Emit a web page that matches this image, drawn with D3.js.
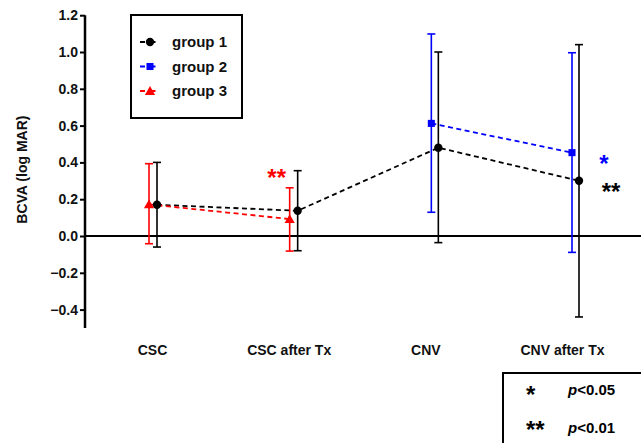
<!DOCTYPE html>
<html><head><meta charset="utf-8">
<script src="https://cdn.jsdelivr.net/npm/d3@7/dist/d3.min.js"></script>
<style>
html,body{margin:0;padding:0;background:#fff;}
svg{display:block;font-family:"Liberation Sans",Arial,sans-serif;}
</style></head>
<body>
<svg id="chart" width="641" height="443"></svg>
<script>
// ---- data ----
const categories = ["CSC", "CSC after Tx", "CNV", "CNV after Tx"];
const yTicks = [-0.4, -0.2, 0.0, 0.2, 0.4, 0.6, 0.8, 1.0, 1.2];
const groupNames = ["group 1", "group 2", "group 3"];
const g1Cats = ["CSC", "CSC after Tx", "CNV", "CNV after Tx"];
const g1Mean = [0.17, 0.137, 0.48, 0.30];
const g1Low  = [-0.06, -0.08, -0.036, -0.44];
const g1High = [0.40, 0.355, 1.00, 1.04];
const g2Cats = ["CNV", "CNV after Tx"];
const g2Mean = [0.612, 0.453];
const g2Low  = [0.129, -0.089];
const g2High = [1.098, 0.996];
const g3Cats = ["CSC", "CSC after Tx"];
const g3Mean = [0.172, 0.092];
const g3Low  = [-0.042, -0.082];
const g3High = [0.393, 0.262];
const sigMarks = [
  {cat: "CSC after Tx", text: "**", group: 2},
  {cat: "CNV after Tx", text: "*", group: 1},
  {cat: "CNV after Tx", text: "**", group: 0}
];
const pLegend = [{stars: "*", label: "<0.05"}, {stars: "**", label: "<0.01"}];

// ---- layout ----
const colors = ["#000000", "#0000ff", "#ff0000"];
const shapes = [d3.symbolCircle, d3.symbolSquare, d3.symbolTriangle];
const symSize = [55, 50, 45];
const offsets = [0, -7, -8];
const FONT = "Liberation Sans, Arial, sans-serif";

const svg = d3.select("#chart");
const y = d3.scaleLinear().domain([-0.5, 1.2]).range([328, 15.2]);
const x = d3.scalePoint().domain(categories).range([157, 579]);
const xLab = d3.scalePoint().domain(categories).range([152, 562]);

const groups = [
  {cats: g1Cats, mean: g1Mean, low: g1Low, high: g1High},
  {cats: g2Cats, mean: g2Mean, low: g2Low, high: g2High},
  {cats: g3Cats, mean: g3Mean, low: g3Low, high: g3High}
].map((g, i) => ({...g, i, pts: g.cats.map((c, k) => ({c, m: g.mean[k], lo: g.low[k], hi: g.high[k]}))}));

// y axis
const yAxis = svg.append("g").attr("transform", "translate(85,0)")
  .call(d3.axisLeft(y).tickValues(yTicks).tickFormat(d3.format(".1f")).tickSize(5).tickSizeOuter(0));
yAxis.select(".domain").attr("stroke-width", 2.5).attr("d", `M0,${y(1.2)}V${y(-0.5)}`);
yAxis.selectAll(".tick line").attr("stroke-width", 2);
yAxis.selectAll(".tick text").attr("font-size", 14).attr("font-weight", "bold")
  .attr("font-family", FONT).attr("x", -7).attr("fill", "#111");

// zero line
svg.append("line").attr("x1", 85).attr("x2", 641).attr("y1", y(0)).attr("y2", y(0))
  .attr("stroke", "#000").attr("stroke-width", 2);

// y label
svg.append("text").attr("transform", `translate(27,${(y(1.2)+y(-0.5))/2 - 2}) rotate(-90)`)
  .attr("text-anchor", "middle").attr("font-size", 14).attr("font-weight", "bold").attr("fill", "#111")
  .text("BCVA (log MAR)");

// x labels
const xAxis = svg.append("g").attr("transform", "translate(0,341)")
  .call(d3.axisBottom(xLab).tickSize(0).tickPadding(0));
xAxis.select(".domain").remove();
xAxis.selectAll(".tick text").attr("font-size", 14).attr("font-weight", "bold")
  .attr("font-family", FONT).attr("fill", "#111").attr("dy", "1em");

// lines
groups.forEach(g => {
  svg.append("path").datum(g.pts)
    .attr("d", d3.line().x(d => x(d.c) + offsets[g.i]).y(d => y(d.m)))
    .attr("fill", "none").attr("stroke", colors[g.i]).attr("stroke-width", 1.8)
    .attr("stroke-dasharray", "5,3.5");
});

// error bars
const cap = 4;
groups.forEach(g => {
  const eg = svg.append("g").attr("stroke", colors[g.i]).attr("stroke-width", 1.6);
  g.pts.forEach(d => {
    const cx = x(d.c) + offsets[g.i];
    eg.append("line").attr("x1", cx).attr("x2", cx).attr("y1", y(d.lo)).attr("y2", y(d.hi));
    eg.append("line").attr("x1", cx - cap).attr("x2", cx + cap).attr("y1", y(d.lo)).attr("y2", y(d.lo));
    eg.append("line").attr("x1", cx - cap).attr("x2", cx + cap).attr("y1", y(d.hi)).attr("y2", y(d.hi));
  });
});

// markers
groups.forEach(g => {
  svg.append("g").selectAll("path").data(g.pts).join("path")
    .attr("d", d3.symbol().type(shapes[g.i]).size(symSize[g.i]))
    .attr("transform", d => `translate(${x(d.c) + offsets[g.i]},${y(d.m) + (g.i === 2 ? 1 : 0)})`)
    .attr("fill", colors[g.i]);
});

// significance marks
const sigPos = [
  {dx: -21, dy: -2},
  {dx: 25, dy: 19},
  {dx: 32, dy: 19}
];
sigMarks.forEach((s, k) => {
  const g = groups[s.group];
  const idx = g.cats.indexOf(s.cat);
  const yy = (k === 0 ? y(g.high[idx]) : y(g.mean[idx])) + sigPos[k].dy;
  svg.append("text").attr("x", x(s.cat) + sigPos[k].dx).attr("y", yy)
    .attr("text-anchor", "middle").attr("font-size", 24).attr("font-weight", "bold")
    .attr("fill", colors[s.group]).text(s.text);
});

// group legend
const lg = svg.append("g");
lg.append("rect").attr("x", 131).attr("y", 15).attr("width", 111).attr("height", 103)
  .attr("fill", "#fff").attr("stroke", "#000").attr("stroke-width", 2);
groupNames.forEach((n, i) => {
  const yy = 42 + i * 24.5;
  lg.append("line").attr("x1", 140).attr("x2", 161).attr("y1", yy).attr("y2", yy)
    .attr("stroke", colors[i]).attr("stroke-width", 1.8).attr("stroke-dasharray", "5,5.5");
  lg.append("path").attr("d", d3.symbol().type(shapes[i]).size(symSize[i]))
    .attr("transform", `translate(150,${yy + (i === 2 ? 1 : 0)})`).attr("fill", colors[i]);
  lg.append("text").attr("x", 172).attr("y", yy + 5).attr("font-size", 15).attr("font-weight", "bold")
    .attr("fill", "#111").text(n);
});

// p legend
const pg = svg.append("g");
pg.append("rect").attr("x", 503).attr("y", 373).attr("width", 145).attr("height", 80)
  .attr("fill", "#fff").attr("stroke", "#000").attr("stroke-width", 2);
pLegend.forEach((p, i) => {
  const yy = 395 + i * 38;
  pg.append("text").attr("x", 526).attr("y", yy + 8 - i * 3).attr("text-anchor", "start")
    .attr("font-size", 24).attr("font-weight", "bold").attr("fill", "#000").text(p.stars);
  const t = pg.append("text").attr("x", 568).attr("y", yy).attr("font-size", 15)
    .attr("font-weight", "bold").attr("fill", "#000");
  t.append("tspan").attr("font-style", "italic").text("p");
  t.append("tspan").text(p.label);
});
</script>
</body></html>
